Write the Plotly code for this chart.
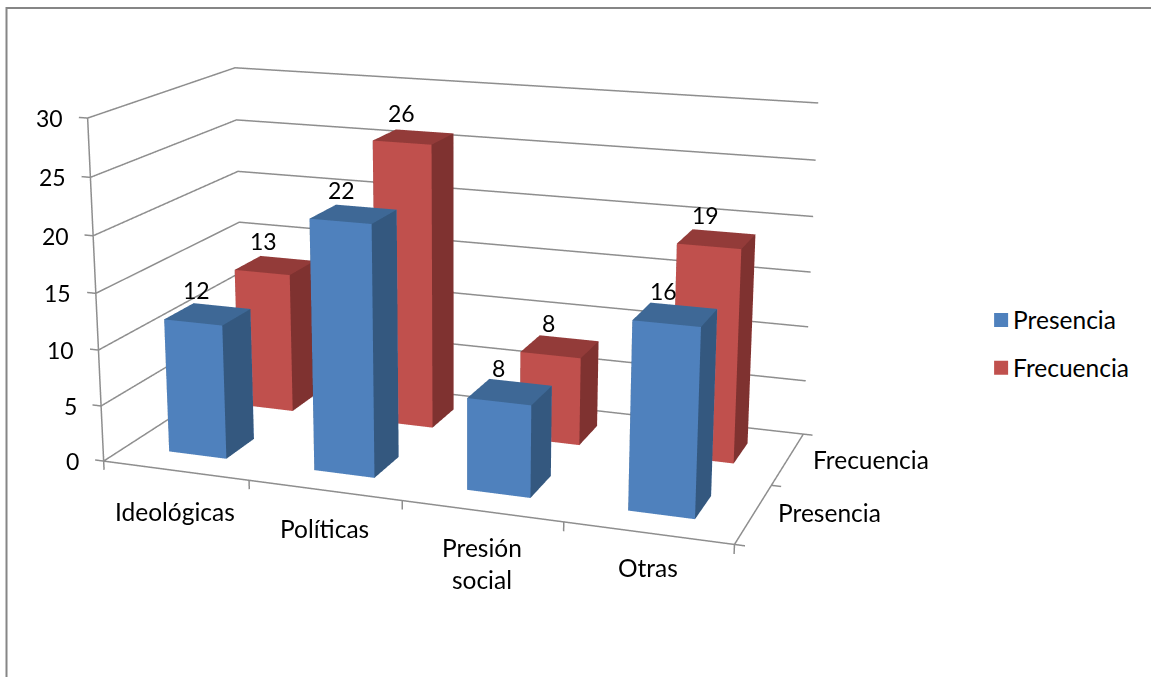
import math
import plotly.graph_objects as go

categories = ["Ideológicas", "Políticas", "Presión<br>social", "Otras"]
series_names = ["Presencia", "Frecuencia"]
presencia = [12, 22, 8, 16]
frecuencia = [13, 26, 8, 19]
z_ticks = [0, 5, 10, 15, 20, 25, 30]

BAR = 0.40
FONT = "Lato"
FS = 24.5
FS_NUM = 23
GRID = "#8e8e8e"
COL = [
    {"front": "#4F81BD", "side": "#34587F", "top": "#3E6896"},
    {"front": "#C0504D", "side": "#7F3230", "top": "#933B39"},
]
NX, NY, ZMAX = len(categories), len(series_names), z_ticks[-1]
TX, TZ, PY, PZ = 0.06, 0.8, 0.02, 0.4
CAT_SHIFT = [(0, -40.5), (0, -38.5), (0.5, -52), (0, -34.5)]


def box(values, row, col):
    xs, ys, zs, i, j, k, fc = [], [], [], [], [], [], []
    faces = [
        ((0, 1, 5, 4), col["front"]),
        ((1, 2, 6, 5), col["side"]),
        ((4, 5, 6, 7), col["top"]),
        ((0, 3, 7, 4), col["side"]),
        ((3, 2, 6, 7), col["front"]),
        ((0, 1, 2, 3), col["side"]),
    ]
    for n, v in enumerate(values):
        x0, x1 = n + 0.5 - BAR / 2, n + 0.5 + BAR / 2
        y0, y1 = row + 0.5 - BAR / 2, row + 0.5 + BAR / 2
        b = len(xs)
        xs += [x0, x1, x1, x0, x0, x1, x1, x0]
        ys += [y0, y0, y1, y1, y0, y0, y1, y1]
        zs += [0, 0, 0, 0, v, v, v, v]
        for (p, q, r, s), c in faces:
            i += [b + p, b + p]
            j += [b + q, b + r]
            k += [b + r, b + s]
            fc += [c, c]
    return xs, ys, zs, i, j, k, fc


fig = go.Figure()

# walls, axes and ticks
lx, ly, lz = [], [], []
def seg(*pts):
    for p in pts:
        lx.append(p[0]); ly.append(p[1]); lz.append(p[2])
    lx.append(None); ly.append(None); lz.append(None)

for t in z_ticks:
    seg((0, 0, t), (0, NY, t), (NX, NY, t))
    seg((-TX, 0, t), (0, 0, t))
seg((0, 0, 0), (0, 0, ZMAX))
seg((0, 0, 0), (NX, 0, 0), (NX, NY, 0))
for n in range(NX + 1):
    seg((n, 0, 0), (n, 0, -TZ))
for r in range(NY + 1):
    seg((NX, r, 0), (NX + TX, r, 0))
fig.add_trace(go.Scatter3d(x=lx, y=ly, z=lz, mode="lines", line=dict(color=GRID, width=3),
                           hoverinfo="skip", showlegend=False))

for row, (name, vals) in enumerate(zip(series_names, [presencia, frecuencia])):
    xs, ys, zs, i, j, k, fc = box(vals, row, COL[row])
    fig.add_trace(go.Mesh3d(
        x=xs, y=ys, z=zs, i=i, j=j, k=k, facecolor=fc, name=name, showlegend=False,
        flatshading=True, hoverinfo="skip",
        lighting=dict(ambient=1, diffuse=0, specular=0, roughness=1, fresnel=0),
    ))
    fig.add_trace(go.Scatter3d(
        x=[None], y=[None], z=[None], mode="markers", name=name, legendgroup=name, showlegend=True,
        marker=dict(symbol="square", size=14, color=COL[row]["front"], line=dict(width=0)),
    ))

anns = []
def ann(x, y, z, text, xshift=0, yshift=0, xanchor="center", yanchor="middle", size=FS):
    anns.append(dict(x=x, y=y, z=z, text=text, showarrow=False, xshift=xshift, yshift=yshift,
                     xanchor=xanchor, yanchor=yanchor, font=dict(family=FONT, size=size, color="#000000")))

for t in z_ticks:
    ann(0, 0, t, str(t), xshift=-22.5, xanchor="right", size=FS_NUM)
for n, c in enumerate(categories):
    ann(n + 0.5, 0, 0, c, xshift=CAT_SHIFT[n][0], yshift=CAT_SHIFT[n][1])
for row, vals in enumerate([presencia, frecuencia]):
    for n, v in enumerate(vals):
        ann(n + 0.5, row + 0.5, v, str(v), xshift=-11.5, yshift=24, size=FS_NUM)
    ann(NX, row + 0.5, 0, series_names[row], xshift=22.5 if row == 0 else 23.5,
        yshift=1.5 if row == 0 else -0.5, xanchor="left")

hidden = dict(visible=False, showspikes=False)
AZ, EL, D = math.radians(20), math.radians(15), 3.25
CZ = 0.00361
fig.update_layout(
    width=1151, height=677, margin=dict(l=0, r=0, t=0, b=0),
    paper_bgcolor="#ffffff", font=dict(family=FONT, size=FS, color="#000000"),
    scene=dict(
        domain=dict(x=[0, 920 / 1151], y=[1 - 565 / 677, 1]),
        aspectmode="manual", aspectratio=dict(x=1.03, y=0.51, z=0.5637),
        bgcolor="rgba(0,0,0,0)",
        camera=dict(eye=dict(x=D * math.sin(AZ) * math.cos(EL), y=-D * math.cos(AZ) * math.cos(EL),
                             z=D * math.sin(EL) + CZ),
                    center=dict(x=0, y=0, z=CZ), up=dict(x=0, y=0, z=1)),
        xaxis=dict(hidden, range=[-TX, NX + TX]),
        yaxis=dict(hidden, range=[-PY, NY + PY]),
        zaxis=dict(hidden, range=[-TZ, ZMAX + PZ]),
        annotations=anns,
    ),
    legend=dict(x=0.8524, y=0.4919, xanchor="left", yanchor="middle", tracegroupgap=13,
                itemclick=False, font=dict(family=FONT, size=FS)),
    shapes=[dict(type="rect", xref="paper", yref="paper", x0=6.5 / 1151, x1=1.1, y0=-0.1, y1=1 - 8 / 677,
                 line=dict(color="#868686", width=2), layer="below")],
)

post = """
document.body.style.margin = '0';
var gd = document.getElementById('{plot_id}');
var s = gd._fullLayout.scene._scene;
s.glplot.fovy = 0.2686;
s.glplot.redraw();
gd.querySelectorAll('.legendtext').forEach(function(t) { t.setAttribute('x', 32); });
"""
fig.write_html("out.html", post_script=post, config=dict(displayModeBar=False))
